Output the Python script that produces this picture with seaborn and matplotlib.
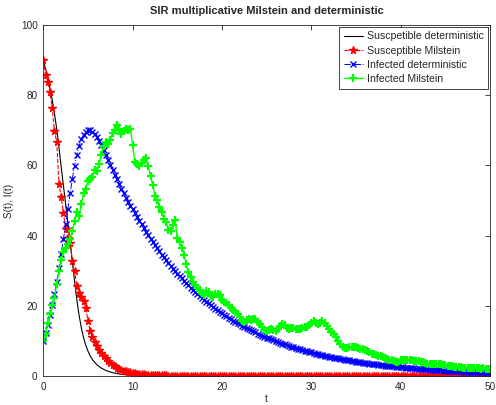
import numpy as np
import pandas as pd
import matplotlib
matplotlib.use("Agg")
import matplotlib.pyplot as plt
import seaborn as sns

# time grid of the simulation (step 0.25 from 0 to 50)
t = np.linspace(0, 50, 201)

# deterministic susceptible (solid black line)
s_det_t = [0, 0.25, 0.5, 0.75, 1.0, 1.25, 1.5, 1.75, 2.0, 2.25, 2.5, 2.75, 3.0, 3.25, 3.5, 3.75,
           4.0, 4.25, 4.5, 4.75, 5.0, 5.25, 5.5, 5.75, 6.0, 6.25, 6.5, 6.75, 7.0, 7.25, 7.5, 7.75,
           8.0, 8.25, 8.5, 8.75, 9.0, 9.25, 9.5, 9.75, 10.0, 11, 12, 14, 17, 20, 30, 40, 50]
s_det = [90.0, 87.6, 85.0, 82.0, 78.6, 74.8, 70.4, 65.2, 59.6, 54.3, 49.0, 43.6, 38.2, 32.6, 27.0, 21.8,
         17.4, 13.8, 11.0, 8.8, 7.1, 5.7, 4.7, 3.9, 3.2, 2.7, 2.25, 1.9, 1.6, 1.35, 1.15, 0.97,
         0.82, 0.69, 0.58, 0.49, 0.42, 0.36, 0.31, 0.26, 0.22, 0.13, 0.08, 0.03, 0.01, 0.01, 0.01, 0.01, 0.01]

# susceptible, Milstein scheme
s_mil = [
    90.0, 85.8, 83.9, 80.8, 76.3, 69.7, 66.7, 54.8, 51.0, 46.5,
    42.0, 39.4, 38.0, 32.8, 29.9, 25.6, 23.6, 22.4, 21.4, 19.4,
    15.6, 12.9, 11.1, 9.8, 8.6, 7.4, 6.6, 5.8, 5.0, 4.3,
    3.7, 3.2, 2.8, 2.4, 2.1, 1.8, 1.55, 1.35, 1.15, 1.0,
    0.87,
    0.76, 0.66, 0.58, 0.50, 0.44, 0.39, 0.35, 0.31, 0.28, 0.25,
    0.22, 0.20, 0.18, 0.16, 0.15, 0.14, 0.13, 0.12, 0.11, 0.10,
    0.10, 0.09, 0.09, 0.09, 0.08, 0.08, 0.08, 0.08, 0.07, 0.07,
    0.07, 0.07, 0.07, 0.06, 0.06, 0.06, 0.06, 0.06, 0.06, 0.05,
    0.05, 0.05, 0.05, 0.05, 0.05, 0.05, 0.04, 0.04, 0.04, 0.04,
    0.04, 0.04, 0.04, 0.04, 0.04, 0.04, 0.03, 0.03, 0.03, 0.03,
    0.03, 0.03, 0.03, 0.03, 0.03, 0.03, 0.03, 0.03, 0.03, 0.03,
    0.03, 0.03, 0.02, 0.02, 0.02, 0.02, 0.02, 0.02, 0.02, 0.02,
    0.02, 0.02, 0.02, 0.02, 0.02, 0.02, 0.02, 0.02, 0.02, 0.02,
    0.02, 0.02, 0.02, 0.02, 0.02, 0.02, 0.02, 0.02, 0.02, 0.02,
    0.02, 0.02, 0.02, 0.02, 0.02, 0.01, 0.01, 0.01, 0.01, 0.01,
    0.01, 0.01, 0.01, 0.01, 0.01, 0.01, 0.01, 0.01, 0.01, 0.01,
    0.01, 0.01, 0.01, 0.01, 0.01, 0.01, 0.01, 0.01, 0.01, 0.01,
    0.01, 0.01, 0.01, 0.01, 0.01, 0.01, 0.01, 0.01, 0.01, 0.01,
    0.01, 0.01, 0.01, 0.01, 0.01, 0.01, 0.01, 0.01, 0.01, 0.01,
    0.01, 0.01, 0.01, 0.01, 0.01, 0.01, 0.01, 0.01, 0.01, 0.01,
]

# infected, deterministic
i_det = [
    10.0, 12.2, 14.6, 17.3, 20.2, 23.4, 26.9, 30.7, 34.7, 38.9,
    43.2, 47.6, 52.0, 56.2, 59.9, 63.0, 65.5, 67.4, 68.7, 69.5,
    70.0, 70.0, 69.6, 68.9, 68.0, 66.9, 65.7, 64.4, 63.0, 61.6,
    60.2, 58.8, 57.4, 56.0, 54.7, 53.4, 52.1, 50.8, 49.6, 48.4,
    47.6, 46.4, 45.3, 44.2, 43.2, 42.1, 41.1, 40.1, 39.1, 38.2,
    37.3, 36.4, 35.5, 34.6, 33.8, 33.0, 32.2, 31.4, 30.6, 29.9,
    29.2, 28.5, 27.8, 27.1, 26.4, 25.8, 25.2, 24.6, 24.0, 23.4,
    22.8, 22.3, 21.7, 21.2, 20.7, 20.2, 19.7, 19.2, 18.8, 18.3,
    17.9, 17.4, 17.0, 16.6, 16.2, 15.8, 15.4, 15.1, 14.7, 14.3,
    14.0, 13.6, 13.3, 13.0, 12.7, 12.4, 12.1, 11.8, 11.5, 11.2,
    10.95, 10.7, 10.4, 10.2, 9.93, 9.69, 9.46, 9.23, 9.00, 8.78,
    8.57, 8.36, 8.16, 7.96, 7.77, 7.58, 7.40, 7.22, 7.05, 6.88,
    6.71, 6.55, 6.39, 6.23, 6.08, 5.93, 5.79, 5.65, 5.51, 5.38,
    5.25, 5.12, 5.00, 4.88, 4.76, 4.65, 4.53, 4.42, 4.31, 4.21,
    4.11, 4.01, 3.91, 3.82, 3.73, 3.64, 3.55, 3.47, 3.38, 3.30,
    3.22, 3.14, 3.06, 2.99, 2.92, 2.85, 2.78, 2.71, 2.65, 2.58,
    2.52, 2.46, 2.40, 2.34, 2.28, 2.22, 2.17, 2.12, 2.07, 2.02,
    1.97, 1.92, 1.88, 1.83, 1.79, 1.74, 1.70, 1.66, 1.62, 1.58,
    1.54, 1.50, 1.47, 1.43, 1.40, 1.37, 1.33, 1.30, 1.27, 1.24,
    1.21, 1.18, 1.15, 1.12, 1.10, 1.07, 1.04, 1.02, 0.99, 0.97,
    0.94,
]

# infected, Milstein scheme
i_mil = [
    10.0, 12.0, 15.2, 17.6, 20.1, 22.3, 26.2, 29.8, 33.0, 35.2,
    36.4, 37.6, 39.0, 41.2, 44.3, 46.8, 45.6, 48.9, 52.0, 53.4,
    55.6, 56.2, 56.8, 58.6, 58.4, 60.4, 63.0, 65.4, 66.6, 66.2,
    67.2, 69.2, 70.0, 71.6, 70.4, 69.0, 69.8, 70.4, 70.0, 70.4,
    65.9, 60.9, 60.4, 59.9, 60.6, 61.6, 62.0, 59.7, 57.0, 54.5,
    51.4, 50.2, 48.2, 46.8, 44.8, 44.0, 41.6, 41.2, 43.0, 44.4,
    39.4, 38.2, 36.6, 34.6, 31.8, 29.6, 28.2, 26.8, 25.9, 25.0,
    24.6, 23.6, 23.2, 24.2, 23.8, 22.9, 22.6, 23.4, 23.4, 23.0,
    21.6, 21.2, 20.7, 20.3, 19.5, 18.9, 18.2, 17.6, 16.9, 15.8,
    15.4, 16.0, 16.3, 16.0, 16.2, 16.1, 15.4, 14.8, 13.9, 13.0,
    12.8, 13.2, 13.4, 13.2, 12.9, 13.4, 14.2, 14.8, 14.4, 13.6,
    13.4, 13.6, 13.8, 13.5, 13.3, 13.5, 13.8, 13.9, 14.1, 14.4,
    15.0, 15.7, 15.2, 14.8, 15.2, 15.7, 15.0, 14.2, 13.4, 12.6,
    11.9, 11.0, 10.0, 9.2, 8.4, 8.0, 8.1, 8.3, 8.2, 8.4,
    8.2, 7.9, 7.7, 7.6, 7.4, 7.2, 6.9, 6.4, 6.2, 6.0,
    5.8, 5.6, 5.3, 5.1, 4.9, 4.7, 4.5, 4.3, 3.9, 4.0,
    4.5, 4.6, 4.5, 4.7, 4.6, 4.5, 4.3, 4.2, 4.2, 4.1,
    3.9, 3.7, 3.5, 3.4, 3.4, 3.5, 3.4, 3.3, 3.4, 3.2,
    3.0, 2.9, 2.9, 2.8, 2.7, 2.6, 2.5, 2.5, 2.4, 2.3,
    2.3, 2.2, 2.2, 2.3, 2.2, 2.2, 2.1, 2.2, 2.1, 2.0,
    2.0,
]

labels = ["Suscpetible deterministic", "Susceptible Milstein",
          "Infected deterministic", "Infected Milstein"]
x_ticks = [0, 10, 20, 30, 40, 50]
y_ticks = [0, 20, 40, 60, 80, 100]

sns.set_theme(style="white")
plt.rcParams["font.family"] = ["Liberation Sans", "DejaVu Sans"]
plt.rcParams["axes.linewidth"] = 0.6

fig = plt.figure(figsize=(4.96, 4.05), dpi=100)
W, H = 496, 405
left, right, top, bottom = 43.3, 490.0, 25.0, 376.0
ax = fig.add_axes([left / W, 1 - bottom / H, (right - left) / W, (bottom - top) / H])

red, blue, green = (1, 0, 0), (0, 0, 1), (0, 1, 0)

sns.lineplot(x=s_det_t, y=s_det, ax=ax, color="black", linewidth=0.8,
             linestyle="-", label=labels[0], sort=False, estimator=None)
sns.lineplot(x=t, y=s_mil, ax=ax, color=red, linewidth=0.8, linestyle="--",
             marker="*", markersize=5.5, markeredgewidth=1.0,
             markeredgecolor=red, markerfacecolor=red,
             label=labels[1], sort=False, estimator=None)
sns.lineplot(x=t, y=i_det, ax=ax, color=blue, linewidth=0.7, linestyle="-.",
             marker="x", markersize=4.5, markeredgewidth=1.0,
             markeredgecolor=blue, label=labels[2], sort=False, estimator=None)
sns.lineplot(x=t, y=i_mil, ax=ax, color=green, linewidth=1.0, linestyle="-",
             marker="+", markersize=5.5, markeredgewidth=1.6,
             markeredgecolor=green, label=labels[3], sort=False, estimator=None)

ax.set_xlim(0, 50)
ax.set_ylim(0, 100)
ax.set_xticks(x_ticks)
ax.set_yticks(y_ticks)
ax.tick_params(direction="in", length=3.5, width=0.6, labelsize=7.2, colors="#262626",
               top=True, right=True, pad=4)
for sp in ax.spines.values():
    sp.set_visible(True)
    sp.set_color("#262626")
    sp.set_linewidth(0.6)

ax.set_xlabel("t", fontsize=7.2, labelpad=1.5, color="#262626")
ax.set_ylabel("S(t), I(t)", fontsize=7.2, labelpad=5, color="#262626")
ax.set_title("SIR multiplicative Milstein and deterministic", fontsize=8,
             fontweight="bold", pad=8)

leg = ax.legend(loc="upper right", fontsize=7.6, frameon=True, fancybox=False,
                framealpha=1, edgecolor="#262626", borderaxespad=0.15,
                handlelength=1.8, handletextpad=0.4, borderpad=0.45, labelspacing=0.4)
leg.get_frame().set_linewidth(0.6)

fig.savefig("out.png", dpi=100)
